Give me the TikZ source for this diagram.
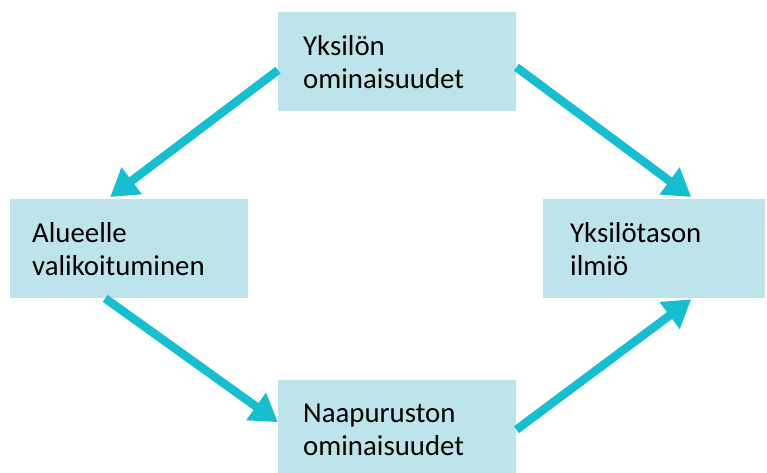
\documentclass[tikz,border=0pt]{standalone}
\usepackage{fontspec}
\setmainfont{Carlito}
\usepackage{tikz}
\usetikzlibrary{arrows.meta}
\definecolor{boxfill}{RGB}{189,228,235}
\definecolor{flowcyan}{RGB}{23,190,207}

\begin{document}
\begin{tikzpicture}[x = 1pt, y = -1pt,
        box/.style = {rectangle, fill = boxfill, anchor = north west, inner xsep = 25pt, inner ysep = 0pt,
            align = left, font = \fontsize{28.8}{33}\selectfont},
        flow/.style = {draw = flowcyan, line width = 8.5pt, -{Triangle[length = 27pt, width = 32pt]}}]
        \useasboundingbox (0,0) rectangle (767,473);
        \clip (0,0) rectangle (767,473);

        \node (indiv) [box, minimum width = 238pt, minimum height = 99pt, text width = 188pt] at (278, 12) {Yksilön\\ominaisuudet};
        \node (select) [box, inner xsep = 22pt, minimum width = 238pt, minimum height = 99pt, text width = 194pt] at (10, 199) {Alueelle\\valikoituminen};
        \node (phenom) [box, inner xsep = 27pt, minimum width = 222pt, minimum height = 99pt, text width = 168pt] at (543, 199) {Yksilötason\\ilmiö};
        \node (neigh) [box, minimum width = 238pt, minimum height = 99pt, text width = 188pt] at (278, 380) {Naapuruston\\ominaisuudet};

        \draw [flow] ([yshift = -8.5pt]indiv.west) -- ([xshift = -19pt, yshift = 2pt]select.north);
        \draw [flow] ([yshift = -5.5pt]indiv.east) -- ([xshift = 37pt, yshift = 2pt]phenom.north);
        \draw [flow] ([xshift = -24pt]select.south) -- ([yshift = 7.5pt]neigh.west);
        \draw [flow] (neigh.east) -- ([xshift = 37pt, yshift = -1pt]phenom.south);
    \end{tikzpicture}
\end{document}
